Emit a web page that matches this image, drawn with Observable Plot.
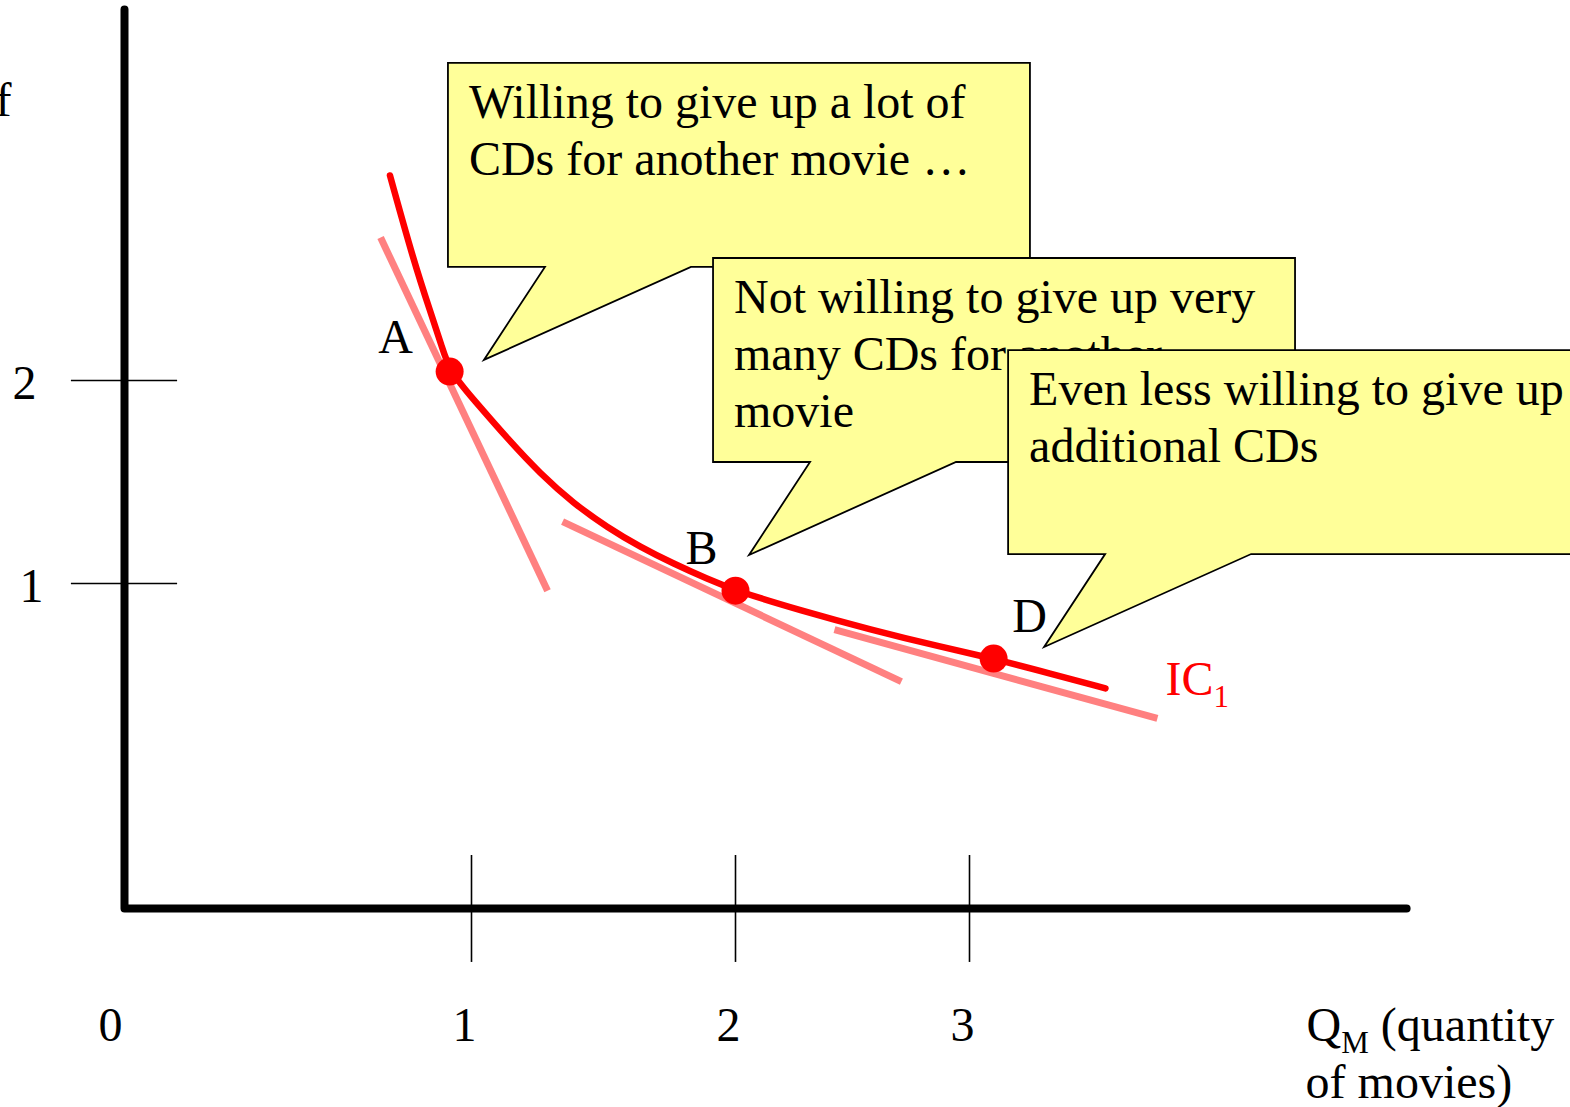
<!DOCTYPE html>
<html>
<head>
<meta charset="utf-8">
<script src="https://cdn.jsdelivr.net/npm/d3@7"></script>
<script src="https://cdn.jsdelivr.net/npm/@observablehq/plot@0.6"></script>
<style>
  html, body { margin: 0; padding: 0; background: #fff; }
  #chart svg { display: block; }
</style>
</head>
<body>
<div id="chart"></div>
<script>
// Indifference curve IC1: quantity of movies (x) against quantity of CDs (y)
const curveMovies = [0.765, 0.833, 0.882, 0.914, 0.937, 1.008, 1.136, 1.261, 1.388, 1.514, 1.640, 1.766, 1.893, 2.0, 2.278, 2.577, 2.876, 3.103, 3.346, 3.581];
const curveCDs    = [3.010, 2.591, 2.335, 2.172, 2.044, 1.906, 1.714, 1.540, 1.393, 1.277, 1.179, 1.097, 1.023, 0.978, 0.917, 0.858, 0.805, 0.769, 0.723, 0.677];

// Bundles marked on the curve
const pointNames  = ["A", "B", "D"];
const pointMovies = [0.937, 2.0, 3.103];
const pointCDs    = [2.044, 0.978, 0.769];

// Tangent segments through each bundle (slope = marginal rate of substitution)
const tangentStartMovies = [0.738, 1.345, 2.423];
const tangentStartCDs    = [2.704, 1.305, 0.858];
const tangentEndMovies   = [1.288, 2.709, 3.803];
const tangentEndCDs      = [0.978, 0.698, 0.585];

// Axis ticks
const xTickValues = [1, 2, 3];
const yTickValues = [1, 2];
const xAxisEnd = 4.868;
const yAxisTop = 3.828;

// Call-out notes and the spot each one points at
const noteLines = [
  ["Willing to give up a lot of", "CDs for another movie \u2026"],
  ["Not willing to give up very", "many CDs for another", "movie"],
  ["Even less willing to give up", "additional CDs"]
];
const noteTipMovies = [1.049, 2.060, 3.321];
const noteTipCDs    = [2.099, 1.138, 0.803];

const curveLabel = "IC_1";
const xTitle = ["Q_M (quantity", "of movies)"];
const yTitleTail = "of";

const serif = "'Liberation Serif', 'Times New Roman', Times, serif";

const curve = curveMovies.map((x, i) => ({x, y: curveCDs[i]}));
const points = pointNames.map((name, i) => ({name, x: pointMovies[i], y: pointCDs[i]}));
const tangents = tangentStartMovies.map((x1, i) => ({
  x1, y1: tangentStartCDs[i], x2: tangentEndMovies[i], y2: tangentEndCDs[i]
}));
const axisPath = [{x: 0, y: yAxisTop}, {x: 0, y: 0}, {x: xAxisEnd, y: 0}];
const pt = name => points.filter(d => d.name === name);

// Speech-bubble call-outs drawn through the x/y scales
function noteBubbles(index, scales) {
  const sx = typeof scales.x === "function" ? scales.x : scales.x.apply;
  const sy = typeof scales.y === "function" ? scales.y : scales.y.apply;
  const g = d3.create("svg:g");
  noteLines.forEach((lines, i) => {
    const px = sx(noteTipMovies[i]), py = sy(noteTipCDs[i]);
    const left = px - 36, right = left + 582, top = py - 297, bottom = py - 93;
    g.append("path")
      .attr("d", `M${left},${top}H${right}V${bottom}H${px + 207}L${px},${py}L${px + 61},${bottom}H${left}Z`)
      .attr("fill", "#ffff99")
      .attr("stroke", "#000")
      .attr("stroke-width", 1.8)
      .attr("stroke-linejoin", "miter");
    const t = g.append("text")
      .attr("font-family", serif)
      .attr("font-size", 48)
      .attr("text-anchor", "start")
      .attr("fill", "#000");
    lines.forEach((line, j) => {
      t.append("tspan").attr("x", left + 21).attr("y", top + 55 + j * 57).text(line);
    });
  });
  return g.node();
}

const textStyle = {fontFamily: serif, fontSize: 48, fill: "#000"};

const chart = Plot.plot({
  width: 1570,
  height: 1107,
  margin: 0,
  style: {background: "#fff", fontFamily: serif, fontSize: "48px", overflow: "hidden"},
  x: {type: "linear", domain: [0, 1, 2, 3, 4], range: [124, 471, 735, 969, 1203], axis: null},
  y: {type: "linear", domain: [0, 1, 2, 3], range: [908, 583, 380, 177], axis: null},
  marks: [
    // axes
    Plot.line(axisPath, {x: "x", y: "y", stroke: "#000", strokeWidth: 8, strokeLinejoin: "round"}),
    Plot.ruleY(yTickValues, {y: d => d, x1: -0.153, x2: 0.153, stroke: "#000", strokeWidth: 1.6}),
    Plot.ruleX(xTickValues, {x: d => d, y1: -0.166, y2: 0.163, stroke: "#000", strokeWidth: 1.6}),
    Plot.text([2], {x: 0, y: d => d, text: d => String(d), dx: -100, dy: 3, ...textStyle}),
    Plot.text([1], {x: 0, y: d => d, text: d => String(d), dx: -93, dy: 3, ...textStyle}),
    Plot.text([0], {x: d => d, y: 0, text: d => String(d), dx: -14, dy: 117, ...textStyle}),
    Plot.text(xTickValues, {x: d => d, y: 0, text: d => String(d), dx: -7, dy: 117, ...textStyle}),
    Plot.text([xTitle[0]], {x: xAxisEnd, y: 0, text: d => d, textAnchor: "start", dx: -100, dy: 117, ...textStyle}),
    Plot.text([xTitle[1]], {x: xAxisEnd, y: 0, text: d => d, textAnchor: "start", dx: -101, dy: 174, ...textStyle}),
    Plot.text([yTitleTail], {frameAnchor: "top-left", lineAnchor: "middle", text: d => d, textAnchor: "end", dx: 11, dy: 100, ...textStyle}),

    // tangents, curve and bundles
    Plot.link(tangents, {x1: "x1", y1: "y1", x2: "x2", y2: "y2", stroke: "#ff8080", strokeWidth: 7}),
    Plot.line(curve, {x: "x", y: "y", stroke: "#ff0000", strokeWidth: 6.5, curve: "basis"}),
    Plot.dot(points, {x: "x", y: "y", r: 14, fill: "#ff0000"}),
    Plot.text(pt("A"), {x: "x", y: "y", text: "name", dx: -54, dy: -34, ...textStyle}),
    Plot.text(pt("B"), {x: "x", y: "y", text: "name", dx: -34, dy: -42, ...textStyle}),
    Plot.text(pt("D"), {x: "x", y: "y", text: "name", dx: 36, dy: -42, ...textStyle}),
    Plot.text([curve[curve.length - 1]], {x: "x", y: "y", text: () => curveLabel, textAnchor: "start", dx: 60, dy: -9, ...textStyle, fill: "#ff0000"}),

    // call-outs
    noteBubbles
  ]
});

// Turn "X_s rest" labels into a base, a lowered subscript and the rest
chart.querySelectorAll("text").forEach(t => {
  if (t.children.length > 0) return;
  const m = t.textContent.match(/^(.*?)_(\S+)(.*)$/);
  if (!m) return;
  t.textContent = "";
  const ns = "http://www.w3.org/2000/svg";
  const base = document.createElementNS(ns, "tspan");
  base.textContent = m[1];
  const sub = document.createElementNS(ns, "tspan");
  sub.textContent = m[2];
  sub.setAttribute("font-size", "31");
  sub.setAttribute("dy", "12");
  t.appendChild(base);
  t.appendChild(sub);
  if (m[3]) {
    const rest = document.createElementNS(ns, "tspan");
    rest.textContent = m[3];
    rest.setAttribute("dy", "-12");
    t.appendChild(rest);
  }
});

document.getElementById("chart").appendChild(chart);
</script>
</body>
</html>
